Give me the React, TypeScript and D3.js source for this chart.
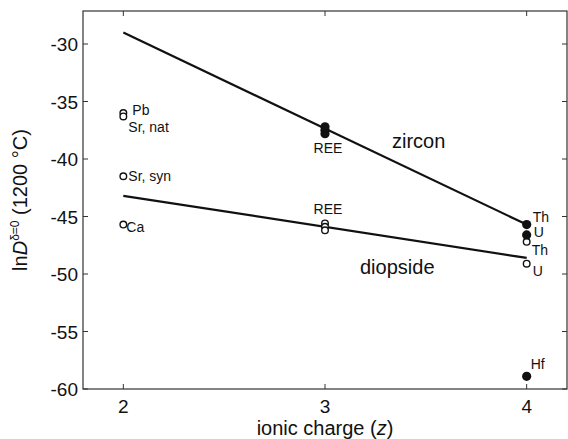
import React from 'react';
import * as d3 from 'd3';

// ionic charge (z) and ln D at 1200 °C
const zirconZ = [3, 3, 3, 4, 4, 4];
const zirconLnD = [-37.2, -37.5, -37.8, -45.7, -46.6, -58.9];
const diopsideZ = [2, 2, 2, 2, 3, 3, 3, 4, 4];
const diopsideLnD = [-36.0, -36.3, -41.5, -45.7, -45.6, -45.9, -46.2, -47.2, -49.1];

// fitted lines (end points at z = 2 and z = 4)
const fitZ = [2, 4];
const zirconFit = [-29.0, -45.7];
const diopsideFit = [-43.2, -48.6];

const xTicks = [2, 3, 4];
const yTicks = [-30, -35, -40, -45, -50, -55, -60];

// point labels, anchored at a data point
const labelText = ['Pb', 'Sr, nat', 'Sr, syn', 'Ca', 'REE', 'REE', 'Th', 'U', 'Th', 'U', 'Hf'];
const labelZ = [2, 2, 2, 2, 3, 3, 4, 4, 4, 4, 4];
const labelLnD = [-36.0, -36.3, -41.5, -45.7, -37.8, -45.6, -45.7, -46.6, -47.2, -49.1, -58.9];

// pixel offsets for those labels
const labelDx = [9, 5, 5, 3, 3, 3, 6, 7, 5, 6, 4];
const labelDy = [2, 16, 5, 7, 19, -9, -3, 2, 13, 12, -7];
const labelAnchor = ['start', 'start', 'start', 'start', 'middle', 'middle', 'start', 'start', 'start', 'start', 'start'];

const W = 568;
const H = 439;
const left = 83;
const right = 567;
const top = 11;
const bottom = 389;
const font = 'Liberation Sans, Arial, Helvetica, sans-serif';

const App: React.FC = () => {
  const x = d3.scaleLinear().domain([1.8, 4.2]).range([left, right]);
  const y = d3.scaleLinear().domain([-60, -27.13]).range([bottom, top]);
  const line = d3
    .line<[number, number]>()
    .x(d => x(d[0]))
    .y(d => y(d[1]));

  const tickLen = 5;

  return (
    <svg
      width={W}
      height={H}
      style={{ position: 'absolute', left: 0, top: 0, background: '#fff' }}
      fontFamily={font}
    >
      <rect x={0} y={0} width={W} height={H} fill="#fff" />
      {/* frame */}
      <rect x={left} y={top} width={right - left} height={bottom - top} fill="none" stroke="#333" strokeWidth={1.2} />

      {/* x ticks */}
      {xTicks.map(t => (
        <g key={'x' + t}>
          <line x1={x(t)} x2={x(t)} y1={bottom} y2={bottom - tickLen} stroke="#333" />
          <line x1={x(t)} x2={x(t)} y1={top} y2={top + tickLen} stroke="#333" />
          <text x={x(t)} y={bottom + 24} textAnchor="middle" fontSize={19} fill="#111">
            {t}
          </text>
        </g>
      ))}

      {/* y ticks */}
      {yTicks.map(t => (
        <g key={'y' + t}>
          <line x1={left} x2={left + tickLen} y1={y(t)} y2={y(t)} stroke="#333" />
          <line x1={right} x2={right - tickLen} y1={y(t)} y2={y(t)} stroke="#333" />
          <text x={left - 5} y={y(t) + 7} textAnchor="end" fontSize={19} fill="#111">
            {t}
          </text>
        </g>
      ))}

      {/* fitted lines */}
      <path d={line(fitZ.map((z, i) => [z, zirconFit[i]]) as [number, number][]) || ''} fill="none" stroke="#111" strokeWidth={2.2} />
      <path d={line(fitZ.map((z, i) => [z, diopsideFit[i]]) as [number, number][]) || ''} fill="none" stroke="#111" strokeWidth={2.2} />

      {/* diopside: open circles */}
      {diopsideZ.map((z, i) => (
        <circle key={'d' + i} cx={x(z)} cy={y(diopsideLnD[i])} r={3.3} fill="#fff" stroke="#111" strokeWidth={1.4} />
      ))}

      {/* zircon: filled circles */}
      {zirconZ.map((z, i) => (
        <circle key={'z' + i} cx={x(z)} cy={y(zirconLnD[i])} r={4.6} fill="#111" />
      ))}

      {/* point labels */}
      {labelText.map((s, i) => (
        <text
          key={'l' + i}
          x={x(labelZ[i]) + labelDx[i]}
          y={y(labelLnD[i]) + labelDy[i]}
          textAnchor={labelAnchor[i] as any}
          fontSize={14}
          fill="#111"
        >
          {s}
        </text>
      ))}

      {/* mineral names */}
      <text x={392} y={148} fontSize={20} fill="#111">
        zircon
      </text>
      <text x={360} y={274} fontSize={20} fill="#111">
        diopside
      </text>

      {/* axis titles */}
      <text x={x(3)} y={435} textAnchor="middle" fontSize={20} fill="#111">
        ionic charge (<tspan fontStyle="italic">z</tspan>)
      </text>
      <text transform={`translate(27, ${(top + bottom) / 2}) rotate(-90)`} textAnchor="middle" fontSize={20} fill="#111">
        ln<tspan fontStyle="italic">D</tspan>
        <tspan fontSize={12} dy={-8}>δ=0</tspan>
        <tspan dy={8}> (1200 °C)</tspan>
      </text>
    </svg>
  );
};

export default App;
